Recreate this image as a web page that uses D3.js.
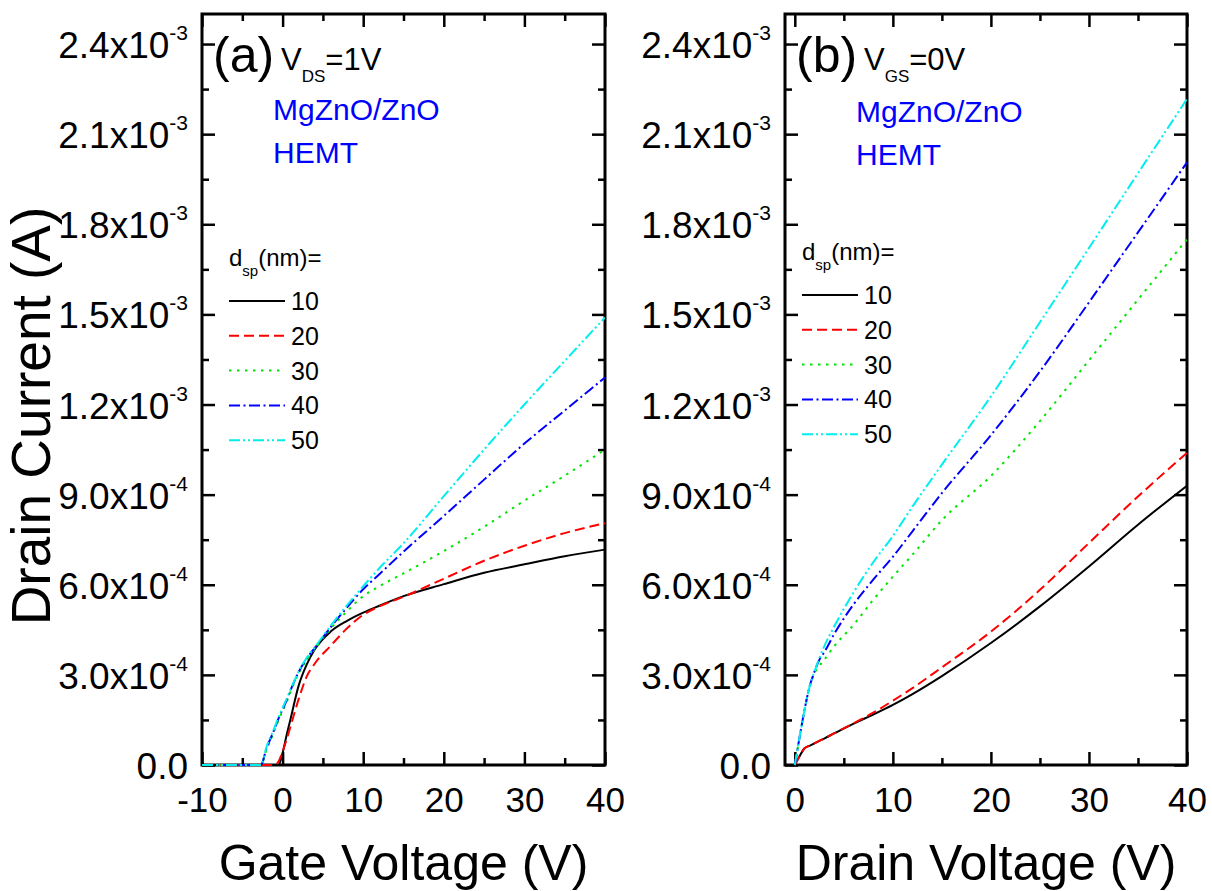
<!DOCTYPE html>
<html>
<head>
<meta charset="utf-8">
<script src="https://cdn.jsdelivr.net/npm/d3@7"></script>
<style>
  body { margin: 0; background: #fff; }
  svg { display: block; font-family: "Liberation Sans", Arial, sans-serif; }
</style>
</head>
<body>
<svg id="chart" width="1212" height="891"></svg>
<script>
// All currents are in units of 1e-4 A.

// (a) transfer curves, V_DS = 1 V
var gateVoltage = [-10, -3, -2.7, -2, -1, -0.5, 0, 0.5, 1, 2, 3, 4, 6, 8, 10, 12, 15, 20, 25, 30, 35, 40];
var transfer10 = [0, 0, 0, 0, 0, 0, 0.4, 1.0, 1.55, 2.65, 3.35, 3.85, 4.45, 4.8, 5.07, 5.3, 5.62, 6.02, 6.4, 6.68, 6.95, 7.17];
var transfer20 = [0, 0, 0, 0, 0, 0.12, 0.45, 0.85, 1.3, 2.2, 2.95, 3.38, 3.98, 4.55, 5.0, 5.28, 5.6, 6.2, 6.8, 7.3, 7.72, 8.05];
var transfer30 = [0, 0, 0, 0.5, 1.15, 1.5, 1.8, 2.1, 2.45, 3.05, 3.5, 3.87, 4.55, 5.12, 5.62, 5.95, 6.38, 7.12, 7.93, 8.8, 9.63, 10.5];
var transfer40 = [0, 0, 0, 0.55, 1.2, 1.55, 1.85, 2.15, 2.5, 3.1, 3.55, 3.9, 4.6, 5.25, 5.85, 6.35, 7.1, 8.29, 9.5, 10.7, 11.8, 12.9];
var transfer50 = [0, 0, 0, 0.6, 1.25, 1.6, 1.9, 2.2, 2.52, 3.12, 3.57, 3.92, 4.65, 5.32, 5.95, 6.55, 7.38, 8.95, 10.5, 12.0, 13.45, 14.9];

// (b) output curves, V_GS = 0 V
var drainVoltage = [0, 0.5, 1, 1.5, 2, 2.5, 3, 4, 6, 8, 10, 12, 15, 20, 25, 30, 35, 40];
var output10 = [0, 0.3, 0.56, 0.64, 0.72, 0.8, 0.88, 1.05, 1.38, 1.68, 2.0, 2.36, 2.96, 4.06, 5.28, 6.61, 8.0, 9.3];
var output20 = [0, 0.3, 0.56, 0.64, 0.72, 0.8, 0.88, 1.05, 1.39, 1.74, 2.14, 2.56, 3.25, 4.44, 5.83, 7.39, 8.94, 10.39];
var output30 = [0, 0.95, 1.85, 2.6, 3.05, 3.3, 3.5, 3.95, 4.67, 5.5, 6.27, 7.0, 8.15, 9.62, 11.45, 13.47, 15.49, 17.5];
var output40 = [0, 0.95, 1.85, 2.6, 3.1, 3.5, 3.75, 4.35, 5.35, 6.17, 6.93, 7.78, 9.05, 10.98, 13.1, 15.4, 17.73, 20.06];
var output50 = [0, 0.95, 1.85, 2.6, 3.1, 3.55, 3.95, 4.6, 5.75, 6.75, 7.62, 8.6, 10.0, 12.27, 14.74, 17.21, 19.7, 22.17];

var spacerLabels = ["10", "20", "30", "40", "50"];
var currentTicks = [0, 3, 6, 9, 12, 15, 18, 21, 24];
var currentMinor = [1.5, 4.5, 7.5, 10.5, 13.5, 16.5, 19.5, 22.5];
var gateTicks = [-10, 0, 10, 20, 30, 40];
var gateMinor = [-5, 5, 15, 25, 35];
var drainTicks = [0, 10, 20, 30, 40];
var drainMinor = [5, 15, 25, 35];

var lineStyles = [
  {color: "#000000", dash: null},
  {color: "#ff0000", dash: "10,5"},
  {color: "#00e600", dash: "2.5,5.5"},
  {color: "#0000ff", dash: "11,3.5,2,3.5"},
  {color: "#00eeee", dash: "11,3,2,3,2,3"}
];

var svg = d3.select("#chart");
var TOP = 14, BOTTOM = 765;

function styleAxis(sel) {
  sel.select(".domain").remove();
  sel.selectAll(".tick line").attr("stroke", "#000").attr("stroke-width", 2.5);
}

function drawPanel(p) {
  var g = svg.append("g");
  var x = d3.scaleLinear().domain(p.xDomain).range([p.left, p.right]);
  var y = d3.scaleLinear().domain([0, 25]).range([BOTTOM, TOP]);

  // minor ticks, all four sides, pointing inward
  g.append("g").attr("transform", "translate(0," + BOTTOM + ")")
    .call(d3.axisBottom(x).tickValues(p.xMinor).tickSize(-7).tickFormat(""))
    .call(styleAxis);
  g.append("g").attr("transform", "translate(0," + TOP + ")")
    .call(d3.axisTop(x).tickValues(p.xMinor).tickSize(-7).tickFormat(""))
    .call(styleAxis);
  g.append("g").attr("transform", "translate(" + p.left + ",0)")
    .call(d3.axisLeft(y).tickValues(currentMinor).tickSize(-7).tickFormat(""))
    .call(styleAxis);
  g.append("g").attr("transform", "translate(" + p.right + ",0)")
    .call(d3.axisRight(y).tickValues(currentMinor).tickSize(-7).tickFormat(""))
    .call(styleAxis);

  // major ticks
  var xAxis = g.append("g").attr("transform", "translate(0," + BOTTOM + ")")
    .call(d3.axisBottom(x).tickValues(p.xTicks).tickSize(-13).tickPadding(22)
      .tickFormat(function (d) { return String(d); }))
    .call(styleAxis);
  xAxis.attr("font-size", null).attr("font-family", null);
  xAxis.selectAll("text").attr("fill", "#000").style("font-size", "35px");

  g.append("g").attr("transform", "translate(0," + TOP + ")")
    .call(d3.axisTop(x).tickValues(p.xTicks).tickSize(-13).tickFormat(""))
    .call(styleAxis);
  g.append("g").attr("transform", "translate(" + p.left + ",0)")
    .call(d3.axisLeft(y).tickValues(currentTicks).tickSize(-13).tickFormat(""))
    .call(styleAxis);
  g.append("g").attr("transform", "translate(" + p.right + ",0)")
    .call(d3.axisRight(y).tickValues(currentTicks).tickSize(-13).tickFormat(""))
    .call(styleAxis);

  // y tick labels like 1.2x10^-3
  var yl = g.append("g").selectAll("text").data(currentTicks).join("text")
    .attr("x", p.left - 14)
    .attr("y", function (d) { return y(d) + 14; })
    .attr("text-anchor", "end")
    .style("font-size", "37px");
  yl.each(function (d) {
    var t = d3.select(this);
    if (d === 0) { t.text("0.0"); return; }
    var exp = d < 10 ? -4 : -3;
    var mant = d < 10 ? d : d / 10;
    t.append("tspan").text(mant.toFixed(1) + "x10");
    t.append("tspan").attr("dy", -18).style("font-size", "21px").text(String(exp));
  });

  // frame
  g.append("rect")
    .attr("x", p.left).attr("y", TOP)
    .attr("width", p.right - p.left).attr("height", BOTTOM - TOP)
    .attr("fill", "none").attr("stroke", "#000").attr("stroke-width", 3);

  // curves
  var clipId = "clip-" + p.name;
  svg.append("clipPath").attr("id", clipId).append("rect")
    .attr("x", p.left).attr("y", TOP)
    .attr("width", p.right - p.left).attr("height", BOTTOM - TOP + 2);

  var line = d3.line()
    .x(function (d) { return x(d[0]); })
    .y(function (d) { return y(d[1]); })
    .curve(d3.curveMonotoneX);

  var curves = g.append("g").attr("clip-path", "url(#" + clipId + ")");
  p.series.forEach(function (vals, i) {
    curves.append("path")
      .datum(p.xs.map(function (v, j) { return [v, vals[j]]; }))
      .attr("d", line)
      .attr("fill", "none")
      .attr("stroke", lineStyles[i].color)
      .attr("stroke-width", 2)
      .attr("stroke-dasharray", lineStyles[i].dash);
  });

  // panel label and condition
  g.append("text").attr("x", p.left + 11).attr("y", 72)
    .style("font-size", "50px").text(p.label);
  var cond = g.append("text").attr("x", p.left + 79).attr("y", 70).style("font-size", "31px");
  cond.append("tspan").text("V");
  cond.append("tspan").attr("dy", 12).style("font-size", "17px").text(p.condSub);
  cond.append("tspan").attr("dy", -12).text(p.condRest);

  g.append("text").attr("x", p.left + 71).attr("y", p.deviceY)
    .attr("fill", "#0000ff").style("font-size", "30px").text("MgZnO/ZnO");
  g.append("text").attr("x", p.left + 71).attr("y", p.deviceY + 43)
    .attr("fill", "#0000ff").style("font-size", "30px").text("HEMT");

  // legend
  var lg = g.append("g");
  var title = lg.append("text").attr("x", p.legendX).attr("y", p.legendY - 35)
    .style("font-size", "24px");
  title.append("tspan").text("d");
  title.append("tspan").attr("dy", 10).style("font-size", "15px").text("sp");
  title.append("tspan").attr("dy", -10).text("(nm)=");

  spacerLabels.forEach(function (lab, i) {
    var ly = p.legendY + i * 34.8;
    lg.append("line")
      .attr("x1", p.legendX).attr("x2", p.legendX + 56)
      .attr("y1", ly).attr("y2", ly)
      .attr("stroke", lineStyles[i].color)
      .attr("stroke-width", 2)
      .attr("stroke-dasharray", lineStyles[i].dash);
    lg.append("text").attr("x", p.legendX + 62).attr("y", ly + 9)
      .style("font-size", "25px").text(lab);
  });

  // axis title
  g.append("text").attr("x", (p.left + p.right) / 2).attr("y", 880)
    .attr("text-anchor", "middle").style("font-size", "50px").text(p.xTitle);
}

drawPanel({
  name: "a", left: 202, right: 605, xDomain: [-10, 40],
  xTicks: gateTicks, xMinor: gateMinor,
  xs: gateVoltage,
  series: [transfer10, transfer20, transfer30, transfer40, transfer50],
  label: "(a)", condSub: "DS", condRest: "=1V", deviceY: 120,
  legendX: 229, legendY: 301,
  xTitle: "Gate Voltage (V)"
});

drawPanel({
  name: "b", left: 785, right: 1187, xDomain: [-1, 40],
  xTicks: drainTicks, xMinor: drainMinor,
  xs: drainVoltage,
  series: [output10, output20, output30, output40, output50],
  label: "(b)", condSub: "GS", condRest: "=0V", deviceY: 122,
  legendX: 802, legendY: 295,
  xTitle: "Drain Voltage (V)"
});

svg.append("text")
  .attr("transform", "translate(50,416) rotate(-90)")
  .attr("text-anchor", "middle")
  .style("font-size", "55px")
  .text("Drain Current (A)");
</script>
</body>
</html>
